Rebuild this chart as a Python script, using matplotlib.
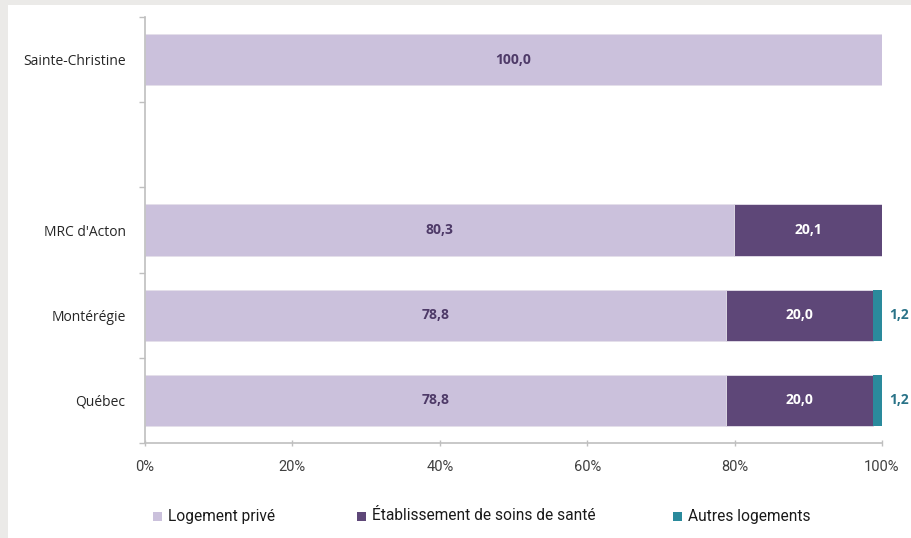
import matplotlib
matplotlib.use("Agg")
import matplotlib.pyplot as plt
from matplotlib.patches import Rectangle
import numpy as np

categories = ["Sainte-Christine", "", "MRC d'Acton", "Montérégie", "Québec"]
prive = [100.0, np.nan, 80.3, 78.8, 78.8]
soins = [0.0, np.nan, 20.1, 20.0, 20.0]
autres = [0.0, np.nan, 0.0, 1.2, 1.2]
series_names = ["Logement privé", "Établissement de soins de santé", "Autres logements"]
colors = ["#cbc1dc", "#5e4778", "#2a8a9c"]
xticks = [0, 20, 40, 60, 80, 100]
xticklabels = ["0%", "20%", "40%", "60%", "80%", "100%"]

fig = plt.figure(figsize=(9.11, 5.38), dpi=100)
fig.patch.set_facecolor("white")
# gray frame at top and left
fig.add_artist(Rectangle((0, 1 - 5 / 538), 1, 5 / 538, transform=fig.transFigure,
                         facecolor="#ebeae8", edgecolor="none"))
fig.add_artist(Rectangle((0, 0), 8 / 911, 1, transform=fig.transFigure,
                         facecolor="#ebeae8", edgecolor="none"))

ax = fig.add_axes([145 / 911, 1 - 443 / 538, (882 - 145) / 911, (443 - 17) / 538])
n = len(categories)
ypos = np.arange(n)[::-1]  # first category at top
h = 0.6

p = np.nan_to_num(np.array(prive))
s = np.nan_to_num(np.array(soins))
a = np.nan_to_num(np.array(autres))
valid = ~np.isnan(np.array(prive))
tot = np.where(valid, p + s + a, 1.0)
# 100 % stacked bars (shares of the total)
pn, sn, an = p / tot * 100, s / tot * 100, a / tot * 100
yv = ypos[valid]

ax.barh(yv, pn[valid], height=h, color=colors[0], edgecolor="#e4e0ea", linewidth=0.6)
ax.barh(yv, sn[valid], left=pn[valid], height=h, color=colors[1], edgecolor="#e4e0ea", linewidth=0.6)
ax.barh(yv, an[valid], left=(pn + sn)[valid], height=h, color=colors[2], edgecolor="none")

def fmt(v):
    return f"{v:.1f}".replace(".", ",")

lab_font = dict(family=["Open Sans", "DejaVu Sans"], fontsize=10, fontweight="bold")
for i in np.where(valid)[0]:
    y = ypos[i]
    if p[i] > 0:
        ax.text(pn[i] / 2, y, fmt(p[i]), ha="center", va="center", color="#4e3a68", **lab_font)
    if s[i] > 0:
        ax.text(pn[i] + sn[i] / 2, y, fmt(s[i]), ha="center", va="center", color="white", **lab_font)
    if a[i] > 0:
        ax.text(pn[i] + sn[i] + an[i] + 1.0, y, fmt(a[i]), ha="left", va="center",
                color="#2a7388", **lab_font)

ax.set_xlim(0, 100)
ax.set_ylim(-0.5, n - 0.5)
ax.set_xticks(xticks)
ax.set_xticklabels(xticklabels, family=["Roboto", "DejaVu Sans"], fontsize=10.5, color="#404040")
ax.set_yticks(ypos)
ax.set_yticklabels(categories, family=["Open Sans", "DejaVu Sans"], fontsize=10, color="#262626")
ax.set_yticks(np.arange(n + 1) - 0.5, minor=True)
ax.tick_params(axis="y", which="major", length=0, pad=14)
ax.tick_params(axis="y", which="minor", length=4, color="#bfbfbf", width=1)
ax.tick_params(axis="x", which="major", length=4, color="#bfbfbf", width=1, pad=10, direction="inout")
for side in ["top", "right"]:
    ax.spines[side].set_visible(False)
for side in ["left", "bottom"]:
    ax.spines[side].set_color("#bfbfbf")
    ax.spines[side].set_linewidth(1.2)

# legend (manual)
leg_x = [153, 357, 673]
leg_y = 516
sq = 9
for x, name, c in zip(leg_x, series_names, colors):
    fig.add_artist(Rectangle((x / 911, 1 - (leg_y + sq / 2) / 538), sq / 911, sq / 538,
                             transform=fig.transFigure, facecolor=c, edgecolor="none"))
    fig.text((x + 15) / 911, 1 - leg_y / 538, name, ha="left", va="center",
             family=["Roboto", "DejaVu Sans"], fontsize=11.2, color="#1a1a1a")

fig.savefig("out.png", dpi=100)
